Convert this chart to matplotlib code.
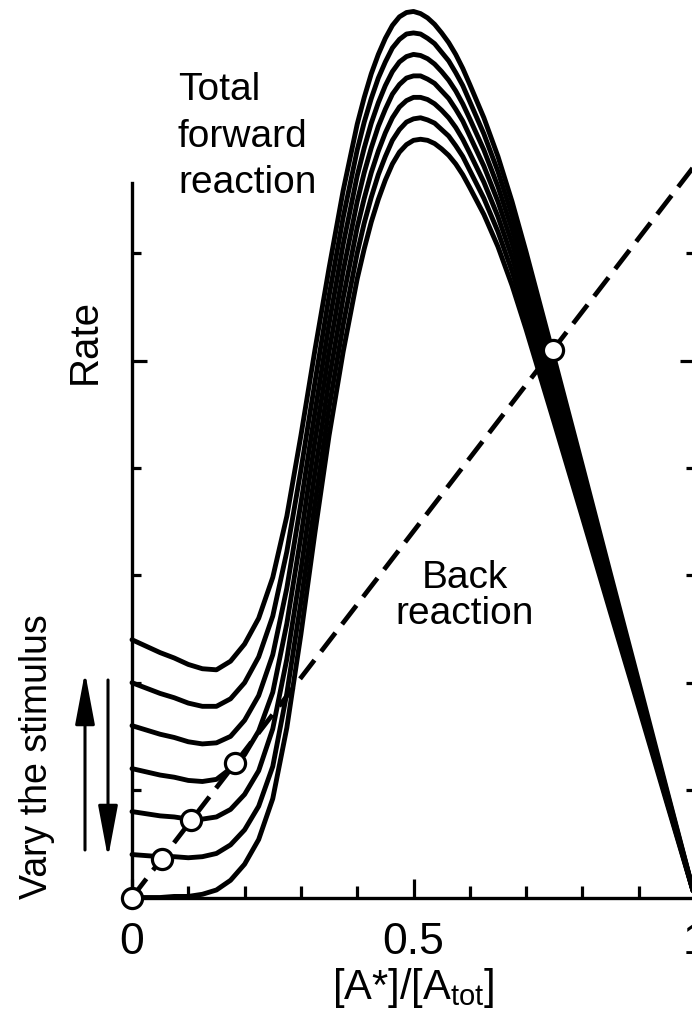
import matplotlib
matplotlib.use("Agg")
import matplotlib.pyplot as plt
from matplotlib.ticker import FixedLocator

plt.rcParams['font.family'] = ['Liberation Sans', 'DejaVu Sans']
plt.rcParams['mathtext.fontset'] = 'custom'
plt.rcParams['mathtext.rm'] = 'Liberation Sans'
plt.rcParams['mathtext.it'] = 'Liberation Sans'

# ---------------- data (rate in axis-tick units) ----------------
x_vals = [0, 0.025, 0.05, 0.075, 0.1, 0.125, 0.15, 0.175, 0.2, 0.225,
          0.25, 0.275, 0.3, 0.325, 0.35, 0.375, 0.4, 0.4125, 0.425, 0.4375,
          0.45, 0.4625, 0.475, 0.4875, 0.5, 0.5125, 0.525, 0.5375, 0.55, 0.5625,
          0.575, 0.5875, 0.6, 0.625, 0.65, 0.675, 0.7, 0.75, 0.8, 0.85,
          0.9, 0.95, 1.0]

forward_s0 = [0, 0, 0, 0.01, 0.01, 0.03, 0.07, 0.16, 0.31, 0.54,
              0.92, 1.58, 2.45, 3.40, 4.30, 5.08, 5.76, 6.04, 6.29, 6.50,
              6.68, 6.83, 6.94, 7.01, 7.05, 7.06, 7.05, 7.02, 6.97, 6.91,
              6.83, 6.73, 6.61, 6.36, 6.06, 5.70, 5.29, 4.42, 3.54, 2.65,
              1.77, 0.88, 0]
forward_s1 = [0.40, 0.39, 0.38, 0.38, 0.37, 0.38, 0.41, 0.49, 0.63, 0.85,
              1.22, 1.90, 2.75, 3.67, 4.56, 5.33, 6.00, 6.28, 6.52, 6.73,
              6.90, 7.05, 7.15, 7.22, 7.25, 7.26, 7.24, 7.21, 7.15, 7.09,
              7.00, 6.90, 6.77, 6.51, 6.20, 5.83, 5.41, 4.52, 3.62, 2.71,
              1.81, 0.90, 0]
forward_s2 = [0.80, 0.78, 0.76, 0.75, 0.73, 0.73, 0.75, 0.82, 0.96, 1.18,
              1.57, 2.22, 3.05, 3.96, 4.82, 5.58, 6.24, 6.51, 6.75, 6.95,
              7.12, 7.26, 7.36, 7.42, 7.45, 7.45, 7.43, 7.39, 7.33, 7.26,
              7.17, 7.06, 6.93, 6.66, 6.34, 5.96, 5.53, 4.62, 3.70, 2.77,
              1.85, 0.92, 0]
forward_s3 = [1.20, 1.17, 1.14, 1.12, 1.09, 1.08, 1.10, 1.20, 1.33, 1.55,
              1.91, 2.55, 3.36, 4.25, 5.08, 5.83, 6.48, 6.75, 6.98, 7.18,
              7.34, 7.48, 7.57, 7.63, 7.65, 7.65, 7.62, 7.58, 7.51, 7.44,
              7.34, 7.23, 7.09, 6.81, 6.48, 6.09, 5.65, 4.72, 3.78, 2.83,
              1.89, 0.94, 0]
forward_s4 = [1.60, 1.56, 1.52, 1.49, 1.45, 1.43, 1.44, 1.50, 1.65, 1.88,
              2.26, 2.88, 3.67, 4.52, 5.34, 6.08, 6.72, 6.98, 7.21, 7.40,
              7.56, 7.69, 7.78, 7.83, 7.85, 7.84, 7.81, 7.76, 7.69, 7.61,
              7.51, 7.39, 7.25, 6.96, 6.62, 6.22, 5.77, 4.82, 3.86, 2.89,
              1.93, 0.96, 0]
forward_s5 = [2.00, 1.95, 1.90, 1.86, 1.81, 1.78, 1.78, 1.85, 2.00, 2.24,
              2.62, 3.22, 3.98, 4.80, 5.60, 6.33, 6.96, 7.22, 7.44, 7.63,
              7.78, 7.91, 7.99, 8.04, 8.05, 8.04, 8.00, 7.95, 7.87, 7.79,
              7.68, 7.56, 7.41, 7.11, 6.76, 6.35, 5.89, 4.92, 3.94, 2.95,
              1.97, 0.98, 0]
forward_s6 = [2.40, 2.34, 2.28, 2.23, 2.17, 2.13, 2.12, 2.20, 2.36, 2.60,
              2.98, 3.55, 4.30, 5.10, 5.86, 6.58, 7.20, 7.45, 7.67, 7.85,
              8.00, 8.12, 8.20, 8.24, 8.25, 8.23, 8.19, 8.13, 8.05, 7.96,
              7.85, 7.72, 7.57, 7.26, 6.90, 6.48, 6.01, 5.02, 4.02, 3.01,
              2.01, 1.00, 0]
forward_curves = [forward_s0, forward_s1, forward_s2, forward_s3,
                  forward_s4, forward_s5, forward_s6]

back_x = [0, 1]
back_y = [0, 6.82]

steady_x = [0, 0.053, 0.105, 0.183, 0.748]
steady_y = [0, 0.36, 0.72, 1.25, 5.10]

xtick_vals = [0, 0.5, 1]
xtick_labels = ['0', '0.5', '1']
xminor_vals = [0.1, 0.2, 0.3, 0.4, 0.6, 0.7, 0.8, 0.9]
ymajor_vals = [5]
yminor_vals = [1, 2, 3, 4, 6]

# ---------------- figure ----------------
W, H = 692, 1014
fig = plt.figure(figsize=(W / 100, H / 100), dpi=100)
x0, x1 = 132, 695
ybot = 897.5
unit = 107.4
ax = fig.add_axes([x0 / W, (H - ybot) / H, (x1 - x0) / W, ybot / H])
ax.set_xlim(0, 1)
ax.set_ylim(0, ybot / unit)

for ys in forward_curves:
    ax.plot(x_vals, ys, color='black', lw=3.5, solid_joinstyle='round',
            solid_capstyle='round', zorder=2, clip_on=False)

ax.plot(back_x, back_y, color='black', lw=3.4, dashes=(5.0, 2.3), zorder=3)
ax.plot(steady_x, steady_y, 'o', ms=14.5, mfc='white', mec='black', mew=2.3,
        zorder=5, clip_on=False)

for s in ['top', 'right']:
    ax.spines[s].set_visible(False)
ax.spines['left'].set_bounds(0, (ybot - 183) / unit)
ax.spines['left'].set_linewidth(2.4)
ax.spines['bottom'].set_linewidth(2.4)

ax.xaxis.set_major_locator(FixedLocator(xtick_vals))
ax.set_xticklabels(xtick_labels)
ax.xaxis.set_minor_locator(FixedLocator(xminor_vals))
ax.yaxis.set_major_locator(FixedLocator(ymajor_vals))
ax.yaxis.set_minor_locator(FixedLocator(yminor_vals))
ax.tick_params(axis='x', which='major', direction='in', length=14, width=2.3,
               labelsize=32, pad=17.5)
ax.tick_params(axis='x', which='minor', direction='in', length=9, width=2.3)
ax.tick_params(axis='y', which='major', direction='in', length=11, width=2.3,
               left=True, right=True, labelleft=False)
ax.tick_params(axis='y', which='minor', direction='in', length=6.5, width=2.3,
               left=True, right=True, labelleft=False)

ax.set_xlabel('[A*]/[A$_\\mathrm{tot}$]', fontsize=30, labelpad=2)

def fx(px):
    return px / W

def fy(py):
    return 1 - py / H

fig.text(fx(178), fy(72), 'Total\nforward\nreaction', ha='left', va='top',
         fontsize=28, linespacing=1.38)
fig.text(fx(465), fy(560), 'Back\nreaction', ha='center', va='top',
         fontsize=28, linespacing=1.0, multialignment='center')
fig.text(fx(85), fy(342), 'Rate', rotation=90, ha='center', va='center', fontsize=29)
fig.text(fx(37), fy(757), 'Vary the stimulus', rotation=90, ha='center',
         va='center', fontsize=27)

arrow_style = '-|>,head_length=1.6,head_width=0.3'
ax.annotate('', xy=(85, H - 672), xytext=(85, H - 850), xycoords='figure pixels',
            textcoords='figure pixels',
            arrowprops=dict(arrowstyle=arrow_style, lw=2.2, color='black',
                            mutation_scale=20, shrinkA=0, shrinkB=0))
ax.annotate('', xy=(108, H - 858), xytext=(108, H - 680), xycoords='figure pixels',
            textcoords='figure pixels',
            arrowprops=dict(arrowstyle=arrow_style, lw=2.2, color='black',
                            mutation_scale=20, shrinkA=0, shrinkB=0))

fig.savefig('out.png', dpi=100)
